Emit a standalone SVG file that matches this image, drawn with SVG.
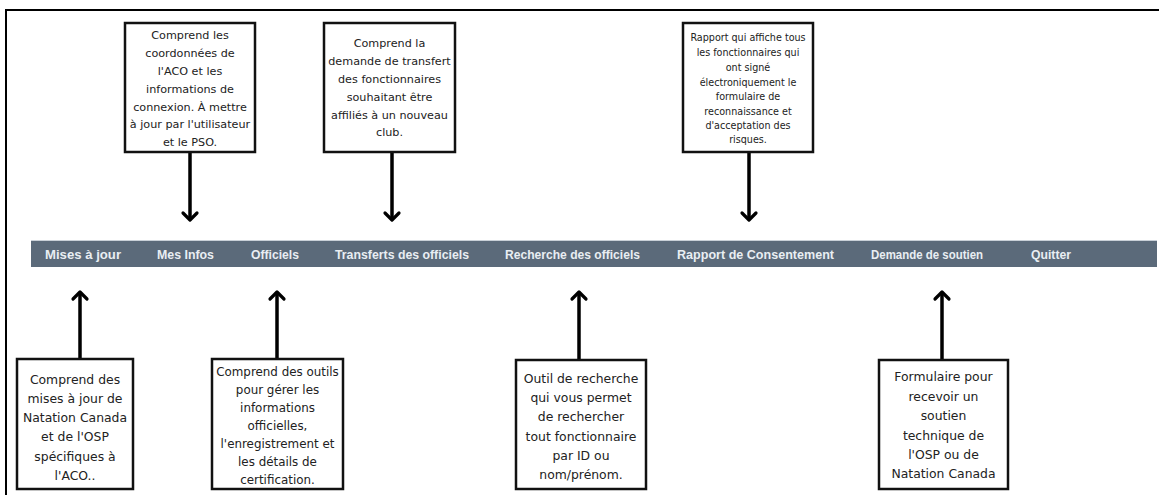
<svg xmlns="http://www.w3.org/2000/svg" width="1159" height="495" viewBox="0 0 1159 495">
<defs>
<marker id="head" markerUnits="userSpaceOnUse" markerWidth="16" markerHeight="18" viewBox="0 0 16 18" refX="10" refY="9" orient="auto" overflow="visible">
<path d="M3,2 L10,9 L3,16" fill="none" stroke="#000" stroke-width="3.2" stroke-linecap="round" stroke-linejoin="round"/>
</marker>
<style>
.box{fill:#fff;stroke:#111;stroke-width:2.5}
.t{font-family:"DejaVu Sans",Verdana,sans-serif;fill:#222;text-anchor:middle}
.tt{font-size:11.2px}
.ts{font-size:9.6px}
.tb{font-size:12.4px}
.nav{font-family:"Liberation Sans",Tahoma,sans-serif;font-size:13px;fill:#e9eef3;font-weight:bold}
.arr{stroke:#000;stroke-width:3.5;fill:none;marker-end:url(#head)}
.frame{stroke:#000;stroke-width:2;fill:none}
</style>
</defs>
<rect width="1159" height="495" fill="#fff"/>
<path class="frame" d="M6,495 V10 H1159"/>
<g id="navbar">
<rect x="31" y="240" width="1126" height="27" fill="#5b6a7a"/>
<line x1="31" y1="240.5" x2="1157" y2="240.5" stroke="#c9d0d8" stroke-width="1"/>
<text class="nav" x="45" y="259" textLength="76" lengthAdjust="spacingAndGlyphs">Mises à jour</text>
<text class="nav" x="157" y="259" textLength="57" lengthAdjust="spacingAndGlyphs">Mes Infos</text>
<text class="nav" x="251" y="259" textLength="48" lengthAdjust="spacingAndGlyphs">Officiels</text>
<text class="nav" x="335" y="259" textLength="134" lengthAdjust="spacingAndGlyphs">Transferts des officiels</text>
<text class="nav" x="505" y="259" textLength="135" lengthAdjust="spacingAndGlyphs">Recherche des officiels</text>
<text class="nav" x="677" y="259" textLength="157" lengthAdjust="spacingAndGlyphs">Rapport de Consentement</text>
<text class="nav" x="871" y="259" textLength="112" lengthAdjust="spacingAndGlyphs">Demande de soutien</text>
<text class="nav" x="1031" y="259" textLength="40" lengthAdjust="spacingAndGlyphs">Quitter</text>
</g>
<g id="connectors">
<line class="arr" x1="190" y1="152" x2="190" y2="220"/>
<line class="arr" x1="392" y1="152" x2="392" y2="220"/>
<line class="arr" x1="749" y1="152" x2="749" y2="220"/>
<line class="arr" x1="80" y1="359" x2="80" y2="292"/>
<line class="arr" x1="277" y1="359" x2="277" y2="292"/>
<line class="arr" x1="579" y1="360" x2="579" y2="292"/>
<line class="arr" x1="942" y1="360" x2="942" y2="292"/>
</g>
<g id="box-mesinfos">
<rect class="box" x="125" y="23" width="130" height="129"/>
<text class="t tt"><tspan x="190" y="39">Comprend les</tspan><tspan x="190" y="57">coordonnées de</tspan><tspan x="190" y="75">l'ACO et les</tspan><tspan x="190" y="92.5">informations de</tspan><tspan x="190" y="110.5">connexion. À mettre</tspan><tspan x="190" y="128">à jour par l'utilisateur</tspan><tspan x="190" y="146">et le PSO.</tspan></text>
</g>
<g id="box-transferts">
<rect class="box" x="324" y="23" width="131" height="129"/>
<text class="t tt"><tspan x="389.5" y="47">Comprend la</tspan><tspan x="389.5" y="65">demande de transfert</tspan><tspan x="389.5" y="83">des fonctionnaires</tspan><tspan x="389.5" y="101">souhaitant être</tspan><tspan x="389.5" y="118.5">affiliés à un nouveau</tspan><tspan x="389.5" y="136">club.</tspan></text>
</g>
<g id="box-rapport">
<rect class="box" x="683" y="23" width="130" height="129"/>
<text class="t ts"><tspan x="748" y="40.5">Rapport qui affiche tous</tspan><tspan x="748" y="56">les fonctionnaires qui</tspan><tspan x="748" y="71">ont signé</tspan><tspan x="748" y="85.5">électroniquement le</tspan><tspan x="748" y="100">formulaire de</tspan><tspan x="748" y="114.5">reconnaissance et</tspan><tspan x="748" y="129">d'acceptation des</tspan><tspan x="748" y="143">risques.</tspan></text>
</g>
<g id="box-mises">
<rect class="box" x="17" y="359" width="116" height="130"/>
<text class="t tb"><tspan x="75" y="384">Comprend des</tspan><tspan x="75" y="403">mises à jour de</tspan><tspan x="75" y="422">Natation Canada</tspan><tspan x="75" y="441">et de l'OSP</tspan><tspan x="75" y="461">spécifiques à</tspan><tspan x="75" y="480">l'ACO..</tspan></text>
</g>
<g id="box-officiels">
<rect class="box" x="212" y="359" width="131" height="130"/>
<text class="t" style="font-size:11.9px"><tspan x="277.5" y="376">Comprend des outils</tspan><tspan x="277.5" y="393.5">pour gérer les</tspan><tspan x="277.5" y="411.5">informations</tspan><tspan x="277.5" y="429.5">officielles,</tspan><tspan x="277.5" y="447.5">l'enregistrement et</tspan><tspan x="277.5" y="466">les détails de</tspan><tspan x="277.5" y="484">certification.</tspan></text>
</g>
<g id="box-recherche">
<rect class="box" x="516" y="360" width="130" height="129"/>
<text class="t tb"><tspan x="581" y="383">Outil de recherche</tspan><tspan x="581" y="402">qui vous permet</tspan><tspan x="581" y="421">de rechercher</tspan><tspan x="581" y="441">tout fonctionnaire</tspan><tspan x="581" y="460">par ID ou</tspan><tspan x="581" y="479">nom/prénom.</tspan></text>
</g>
<g id="box-soutien">
<rect class="box" x="879" y="360" width="129" height="129"/>
<text class="t tb"><tspan x="943.5" y="381">Formulaire pour</tspan><tspan x="943.5" y="400.5">recevoir un</tspan><tspan x="943.5" y="420">soutien</tspan><tspan x="943.5" y="439.5">technique de</tspan><tspan x="943.5" y="459">l'OSP ou de</tspan><tspan x="943.5" y="478">Natation Canada</tspan></text>
</g>
</svg>
